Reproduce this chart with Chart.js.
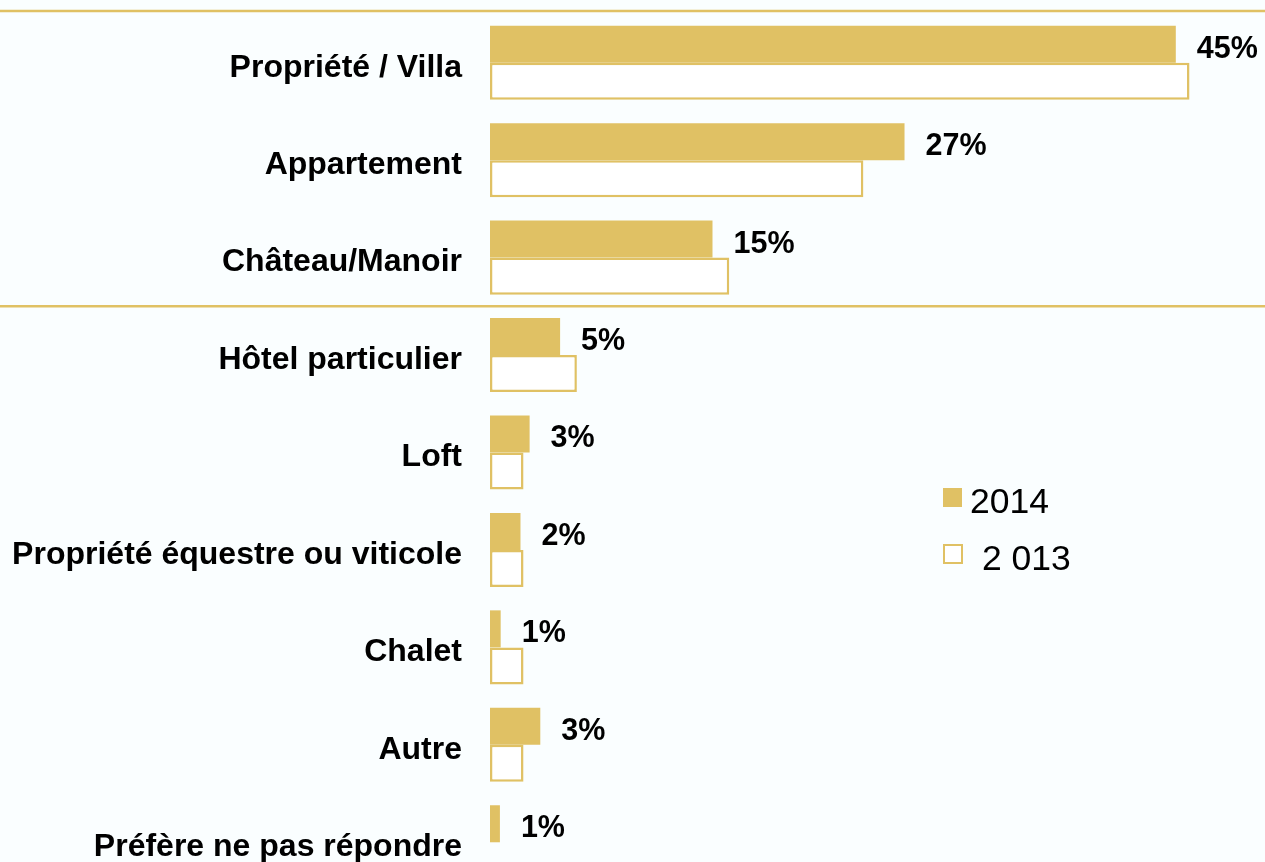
<!DOCTYPE html>
<html>
<head>
<meta charset="utf-8">
<script src="https://cdn.jsdelivr.net/npm/chart.js@4.4.1/dist/chart.umd.min.js"></script>
<style>
  html, body { margin: 0; padding: 0; background: #FAFEFF; overflow: hidden; }
  canvas { display: block; }
</style>
</head>
<body>
<canvas id="typeChart" width="1265" height="891"></canvas>
<script>
var categories = ['Propriété / Villa', 'Appartement', 'Château/Manoir', 'Hôtel particulier', 'Loft',
    'Propriété équestre ou viticole', 'Chalet', 'Autre', 'Préfère ne pas répondre'];
var valeurs2014 = [45, 27.2, 14.6, 4.6, 2.6, 2.0, 0.7, 3.3, 0.65];
var valeurs2013 = [45.9, 24.5, 15.7, 5.7, 2.2, 2.2, 2.2, 2.2, null];
var etiquettes2014 = ['45%', '27%', '15%', '5%', '3%', '2%', '1%', '3%', '1%'];
var separateurs = [0, 3]; // ligne avant ces catégories

var OR = '#E0C164';
var POLICE = "'Liberation Sans', Arial, sans-serif";

// lignes de séparation sur toute la largeur
var pluginSeparateurs = {
    id: 'separateurs',
    afterDatasetsDraw: function (chart) {
        var ctx = chart.ctx;
        var y = chart.scales.y;
        var pas = y.getPixelForValue(1) - y.getPixelForValue(0);
        ctx.save();
        ctx.strokeStyle = OR;
        ctx.lineWidth = 2.5;
        separateurs.forEach(function (i) {
            var py = y.getPixelForValue(i) - pas / 2;
            if (i === 0) py -= 3;
            ctx.beginPath();
            ctx.moveTo(0, py);
            ctx.lineTo(chart.width, py);
            ctx.stroke();
        });
        ctx.restore();
    }
};

// étiquettes de valeurs pour 2014
var pluginEtiquettes = {
    id: 'etiquettes',
    afterDatasetsDraw: function (chart) {
        var ctx = chart.ctx;
        var meta = chart.getDatasetMeta(0);
        ctx.save();
        ctx.font = 'bold 30.5px ' + POLICE;
        ctx.fillStyle = '#000';
        ctx.textAlign = 'left';
        ctx.textBaseline = 'middle';
        meta.data.forEach(function (bar, i) {
            ctx.fillText(etiquettes2014[i], bar.x + 21, bar.y + 5);
        });
        ctx.restore();
    }
};

// légende dessinée à la main
var pluginLegende = {
    id: 'legendeManuelle',
    afterDraw: function (chart) {
        var ctx = chart.ctx;
        var ds = chart.data.datasets;
        ctx.save();
        ctx.font = '35.5px ' + POLICE;
        ctx.textBaseline = 'alphabetic';
        // 2014
        ctx.fillStyle = OR;
        ctx.fillRect(943, 488, 19, 19);
        ctx.fillStyle = '#000';
        ctx.fillText(ds[0].label, 970, 513);
        // 2013
        ctx.fillStyle = '#fff';
        ctx.fillRect(944, 545, 18, 18);
        ctx.strokeStyle = OR;
        ctx.lineWidth = 2;
        ctx.strokeRect(944, 545, 18, 18);
        ctx.fillStyle = '#000';
        ctx.fillText(ds[1].label, 982, 570);
        ctx.restore();
    }
};

var ctx = document.getElementById('typeChart').getContext('2d');
var chart = new Chart(ctx, {
    type: 'bar',
    data: {
        labels: categories,
        datasets: [{
            label: '2014',
            data: valeurs2014,
            backgroundColor: OR,
            borderWidth: 0
        }, {
            label: '2 013',
            data: valeurs2013,
            backgroundColor: '#FFFFFF',
            borderColor: OR,
            borderWidth: 2.5,
            borderSkipped: false
        }]
    },
    options: {
        indexAxis: 'y',
        responsive: false,
        animation: false,
        events: [],
        layout: {
            padding: { top: 14, right: 13, bottom: 0, left: 0 }
        },
        datasets: {
            bar: {
                categoryPercentage: 0.76,
                barPercentage: 1.0
            }
        },
        scales: {
            x: {
                display: false,
                min: 0,
                max: 50
            },
            y: {
                grid: { display: false, drawTicks: false },
                border: { display: false },
                ticks: {
                    padding: 28,
                    labelOffset: 5,
                    color: '#000',
                    font: { family: POLICE, size: 32, weight: 'bold' }
                },
                afterFit: function (scale) {
                    scale.width = 490;
                    scale.paddingTop = 0;
                    scale.paddingBottom = 0;
                }
            }
        },
        plugins: {
            legend: { display: false },
            tooltip: { enabled: false }
        }
    },
    plugins: [pluginSeparateurs, pluginEtiquettes, pluginLegende]
});
</script>
</body>
</html>
